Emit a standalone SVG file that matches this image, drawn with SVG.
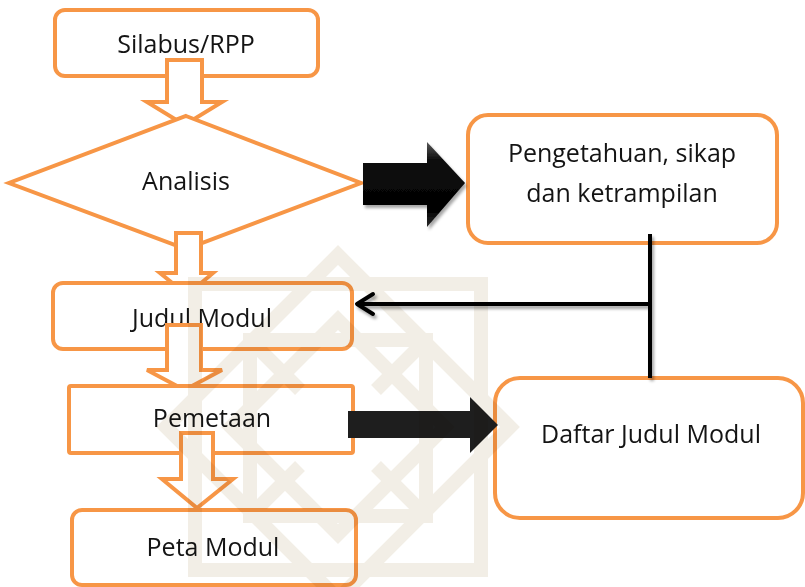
<svg xmlns="http://www.w3.org/2000/svg" width="805" height="587" viewBox="0 0 805 587">
<style>
.box{fill:#fff;stroke:#f79646;stroke-width:4}
.harrow{fill:#fff;stroke:#f79646;stroke-width:4;stroke-linejoin:miter}
.lbl{font-family:"Open Sans","Liberation Sans",sans-serif;font-size:25px;fill:#141414;text-anchor:middle}
.wm{fill:none;stroke:#f2eee6;stroke-width:14}
</style>
<defs>
<linearGradient id="bev" x1="0" y1="0" x2="0" y2="1">
<stop offset="0" stop-color="#5a5a5a"/>
<stop offset="0.2" stop-color="#111"/>
<stop offset="0.8" stop-color="#000"/>
<stop offset="1" stop-color="#2a2a2a"/>
</linearGradient>
<filter id="sh" x="-10%" y="-50%" width="120%" height="200%">
<feDropShadow dx="2" dy="3" stdDeviation="1.5" flood-color="#000" flood-opacity="0.35"/>
</filter>
</defs>
<rect width="805" height="587" fill="#fff"/>

<g id="silabus">
<rect class="box" x="55" y="10" width="263" height="66" rx="10"/>
<text class="lbl" x="186" y="53">Silabus/RPP</text>
</g>
<path class="harrow" d="M167,60 H202 V102 H222 L184.5,125 L147,102 H167 Z"/>

<g id="analisis">
<polygon class="box" points="186,116 361,183 186,249 9,183"/>
<text class="lbl" x="186" y="190">Analisis</text>
</g>
<path class="harrow" d="M176,233 H201 V273 H213 L187,295 L160,273 H176 Z"/>

<g id="judul">
<rect class="box" x="53" y="283" width="299" height="66" rx="10"/>
<text class="lbl" x="202" y="327">Judul Modul</text>
</g>
<path class="harrow" d="M167,325 H201 V370 H222 L184.5,390 L147,370 H167 Z"/>

<g id="pemetaan">
<rect class="box" x="69" y="386" width="284" height="67" rx="2"/>
<text class="lbl" x="212" y="427">Pemetaan</text>
</g>
<path class="harrow" d="M181,433 H213 V479 H233 L197,508 L162,479 H181 Z"/>

<g id="peta">
<rect class="box" x="72" y="510" width="284" height="75" rx="10"/>
<text class="lbl" x="213" y="556">Peta Modul</text>
</g>

<g id="pengetahuan">
<rect class="box" x="468" y="115" width="309" height="128" rx="20"/>
<text class="lbl" x="622" y="162">Pengetahuan, sikap</text>
<text class="lbl" x="622" y="202">dan ketrampilan</text>
</g>

<g id="daftar">
<rect class="box" x="495" y="378" width="308" height="140" rx="25"/>
<text class="lbl" x="651" y="443">Daftar Judul Modul</text>
</g>

<g id="connectors">
<path d="M363,163 H427 V142 L465,183 L427,227 V205 H363 Z" fill="url(#bev)" filter="url(#sh)"/>
<path d="M348,411 H470 V397 L498,425 L470,453 V438 H348 Z" fill="#1e1e1e"/>
<g filter="url(#sh)" fill="none" stroke="#000" stroke-width="4">
<path d="M650,234 V378"/>
<path d="M650,304 H357"/>
<path d="M373,294 L357,304 L373,314" stroke-linecap="round" stroke-linejoin="round"/>
</g>
</g>

<g id="watermark" style="mix-blend-mode:multiply">
<rect class="wm" x="195" y="284" width="286" height="286"/>
<polygon class="wm" points="338,255 510,427 338,599 166,427"/>
<polygon class="wm" points="338,320 445,427 338,534 231,427"/>
<rect class="wm" x="250" y="340" width="176" height="176"/>
<path class="wm" d="M250,340 L300,390 M426,340 L376,390 M250,516 L300,466 M426,516 L376,466"/>
</g>
</svg>
